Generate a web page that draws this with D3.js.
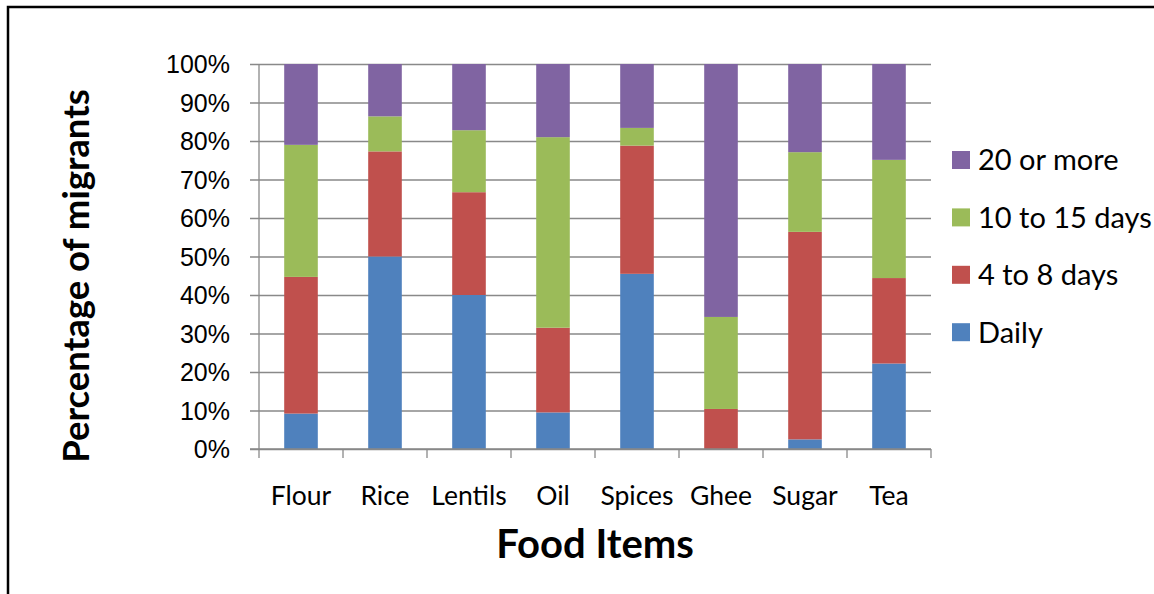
<!DOCTYPE html>
<html>
<head>
<meta charset="utf-8">
<script src="https://cdn.jsdelivr.net/npm/d3@7"></script>
<style>
  html, body { margin: 0; padding: 0; background: #fff; }
  svg { display: block; font-family: Lato, "Open Sans", sans-serif; }
</style>
</head>
<body>
<svg id="chart" width="1154" height="594"></svg>
<script>
// Food items on the x axis
const categories = ["Flour", "Rice", "Lentils", "Oil", "Spices", "Ghee", "Sugar", "Tea"];

// Share of migrants (%) buying each item at a given frequency
const daily        = [ 9.2, 50.0, 40.0,  9.5, 45.5,  0.0,  2.5, 22.2];
const fourToEight  = [35.5, 27.3, 26.7, 22.0, 33.3, 10.4, 53.9, 22.2];
const tenToFifteen = [34.3,  9.1, 16.1, 49.5,  4.6, 23.9, 20.7, 30.7];
const twentyPlus   = [21.0, 13.6, 17.2, 19.0, 16.6, 65.7, 22.9, 24.9];

const seriesNames = ["Daily", "4 to 8 days", "10 to 15 days", "20 or more"];
const seriesColors = ["#4F81BD", "#C0504D", "#9BBB59", "#8064A2"];
const yTicks = [0, 10, 20, 30, 40, 50, 60, 70, 80, 90, 100];

const svg = d3.select("#chart");

// Chart frame (only the top and left edges fall inside the view)
svg.append("rect")
  .attr("x", 8).attr("y", 7)
  .attr("width", 1200).attr("height", 700)
  .attr("fill", "none").attr("stroke", "#000").attr("stroke-width", 2.5);

const plot = { left: 259, right: 931, top: 64, bottom: 449 };

const x = d3.scaleBand()
  .domain(categories)
  .range([plot.left, plot.right])
  .paddingInner(0.6)
  .paddingOuter(0.3);

const y = d3.scaleLinear()
  .domain([0, 100])
  .range([plot.bottom, plot.top]);

const gridColor = "#898989";

// Horizontal gridlines with outward tick marks on the value axis
const yAxis = d3.axisLeft(y)
  .tickValues(yTicks)
  .tickSize(-(plot.right - plot.left))
  .tickFormat(d => d + "%")
  .tickPadding(0);

const yg = svg.append("g")
  .attr("transform", `translate(${plot.left},0)`)
  .call(yAxis);
yg.select(".domain").remove();
yg.selectAll(".tick line")
  .attr("x1", -9)
  .attr("stroke", gridColor).attr("stroke-width", 1.3);
yg.selectAll(".tick text")
  .attr("x", -29)
  .attr("dy", "0.35em")
  .attr("font-size", 25)
  .attr("fill", "#000");

// Vertical value axis line
svg.append("line")
  .attr("x1", plot.left).attr("x2", plot.left)
  .attr("y1", plot.top).attr("y2", plot.bottom)
  .attr("stroke", gridColor).attr("stroke-width", 1.3);

// Stack the series
const rows = categories.map((c, i) => ({
  cat: c,
  "Daily": daily[i],
  "4 to 8 days": fourToEight[i],
  "10 to 15 days": tenToFifteen[i],
  "20 or more": twentyPlus[i]
}));
const stacked = d3.stack().keys(seriesNames)(rows);

svg.append("g").selectAll("g")
  .data(stacked)
  .join("g")
  .attr("fill", (d, i) => seriesColors[i])
  .selectAll("rect")
  .data(d => d)
  .join("rect")
  .attr("x", d => x(d.data.cat))
  .attr("width", x.bandwidth())
  .attr("y", d => y(d[1]))
  .attr("height", d => y(d[0]) - y(d[1]));

// Category axis with tick marks between groups
const boundaries = d3.range(categories.length + 1)
  .map(i => plot.left + i * (plot.right - plot.left) / categories.length);

svg.append("line")
  .attr("x1", plot.left - 9).attr("x2", plot.right)
  .attr("y1", plot.bottom).attr("y2", plot.bottom)
  .attr("stroke", gridColor).attr("stroke-width", 1.6);

svg.append("g").selectAll("line")
  .data(boundaries)
  .join("line")
  .attr("x1", d => d).attr("x2", d => d)
  .attr("y1", plot.bottom).attr("y2", plot.bottom + 9)
  .attr("stroke", gridColor).attr("stroke-width", 1.3);

svg.append("g").selectAll("text")
  .data(categories)
  .join("text")
  .attr("x", d => x(d) + x.bandwidth() / 2)
  .attr("y", 505)
  .attr("text-anchor", "middle")
  .attr("font-size", 26.5)
  .attr("fill", "#000")
  .text(d => d);

// Axis titles
svg.append("text")
  .attr("x", 595).attr("y", 558)
  .attr("text-anchor", "middle")
  .attr("font-size", 40)
  .attr("font-weight", "bold")
  .attr("fill", "#000")
  .text("Food Items");

svg.append("text")
  .attr("transform", "translate(89,276) rotate(-90)")
  .attr("text-anchor", "middle")
  .attr("font-size", 36.5)
  .attr("font-weight", "bold")
  .attr("fill", "#000")
  .text("Percentage of migrants");

// Legend, top entry is the last stacked series
const legendOrder = seriesNames.map((n, i) => ({ name: n, color: seriesColors[i] })).reverse();
const legend = svg.append("g").selectAll("g")
  .data(legendOrder)
  .join("g")
  .attr("transform", (d, i) => `translate(952,${160 + i * 57.4})`);

legend.append("rect")
  .attr("x", 0).attr("y", -9)
  .attr("width", 18).attr("height", 18)
  .attr("fill", d => d.color);

legend.append("text")
  .attr("x", 26).attr("y", 0)
  .attr("dy", "0.36em")
  .attr("font-size", 29)
  .attr("fill", "#000")
  .text(d => d.name);
</script>
</body>
</html>
